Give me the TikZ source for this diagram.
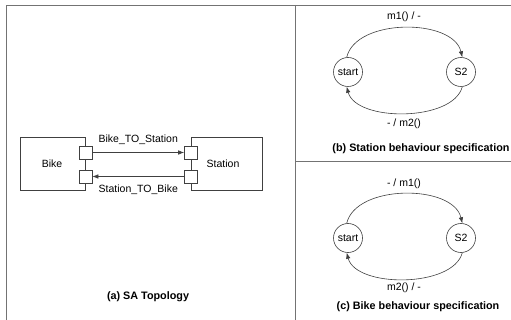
\documentclass[tikz,border=0pt]{standalone}
\usepackage{fontspec}
\setmainfont{Liberation Sans}
\usetikzlibrary{arrows.meta}
\begin{document}
\begin{tikzpicture}[x=1pt,y=-1pt,
  frame/.style={draw=black!55,line width=0.9pt},
  comp/.style={draw=black!75,line width=0.6pt},
  port/.style={draw=black!75,fill=white,line width=0.6pt,minimum size=13pt,inner sep=0pt},
  state/.style={circle,draw=black!75,line width=0.6pt,minimum size=29pt,inner sep=0pt,font=\fontsize{10.5}{12}\selectfont},
  lbl/.style={font=\fontsize{10.5}{12}\selectfont,inner sep=1pt},
  captext/.style={font=\bfseries\fontsize{10.8}{12}\selectfont,inner sep=1pt},
  conn/.style={draw=black!75,line width=0.6pt,-{Latex[length=6pt,width=4.5pt]}}]
\useasboundingbox (0,0) rectangle (511,320);
% frame
\coordinate (f1) at (6,320);
\coordinate (f2) at (6,5);
\coordinate (f3) at (511,5);
\coordinate (d1) at (295,5);
\coordinate (d2) at (295,320);
\coordinate (h1) at (295,161);
\coordinate (h2) at (511,161);
\draw[frame] (f1) -- (f2) -- (f3);
\draw[frame] (d1) -- (d2);
\draw[frame] (h1) -- (h2);
% (a) topology
\draw[comp] (20,137) rectangle (85.5,190);
\draw[comp] (191,137) rectangle (262,190);
\node[lbl] (bike) at (52,164) {Bike};
\node[lbl] (station) at (223,164) {Station};
\node[port] (bp1) at (85.5,152.5) {};
\node[port] (bp2) at (85.5,176.5) {};
\node[port] (sp1) at (191,152.5) {};
\node[port] (sp2) at (191,176.5) {};
\draw[conn] (bp1) -- node[lbl,above=7pt] {Bike\_TO\_Station} (sp1);
\draw[conn] (sp2) -- node[lbl,below=7pt] {Station\_TO\_Bike} (bp2);
\node[captext] (capa) at (148,297) {(a) SA Topology};
% (b) station behaviour
\node[state] (bs) at (348,72) {start};
\node[state] (b2) at (461,72) {S2};
\draw[conn] (bs.95) .. controls (356,18) and (453,18) .. (b2.85);
\draw[conn] (b2.275) .. controls (453,122) and (356,122) .. (bs.265);
\node[lbl] (bm1) at (404,17) {m1() / -};
\node[lbl] (bm2) at (404,124) {- / m2()};
\node[captext] (capb) at (421,149) {(b) Station behaviour specification};
% (c) bike behaviour
\node[state] (cs) at (348,238) {start};
\node[state] (c2) at (461,238) {S2};
\draw[conn] (cs.95) .. controls (356,184) and (453,184) .. (c2.85);
\draw[conn] (c2.275) .. controls (453,288) and (356,288) .. (cs.265);
\node[lbl] (cm1) at (404,184) {- / m1()};
\node[lbl] (cm2) at (404,288) {m2() / -};
\node[captext] (capc) at (418,307) {(c) Bike behaviour specification};
\end{tikzpicture}
\end{document}
